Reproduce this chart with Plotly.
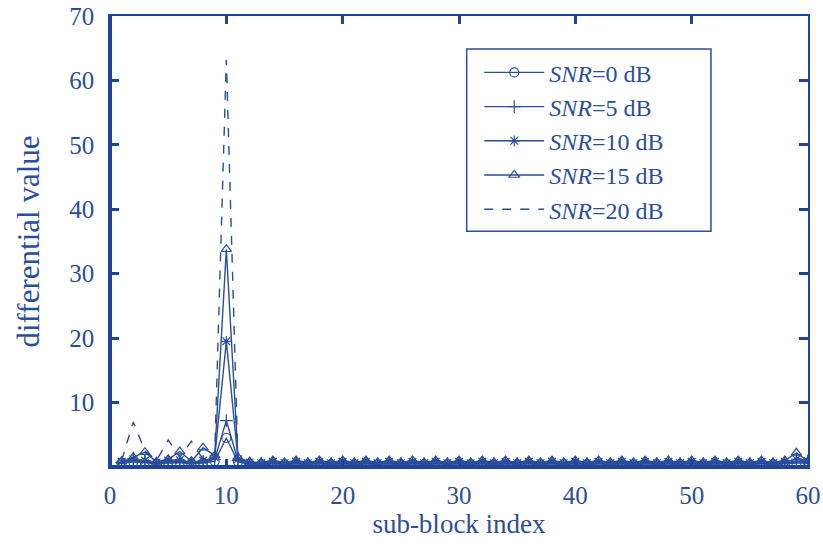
import plotly.graph_objects as go

x_index = list(range(1, 61))

snr0 = [0.6, 0.8, 0.7, 0.5, 0.6, 0.7, 0.5, 0.6, 0.9, 4.5, 0.8, 0.5,
        0.4, 0.5, 0.4, 0.5, 0.4, 0.5, 0.4, 0.5, 0.4, 0.5, 0.4, 0.5, 0.4, 0.5, 0.4, 0.5, 0.4, 0.5,
        0.4, 0.5, 0.4, 0.5, 0.4, 0.5, 0.4, 0.5, 0.4, 0.5, 0.4, 0.5, 0.4, 0.5, 0.4, 0.5, 0.4, 0.5,
        0.4, 0.5, 0.4, 0.5, 0.4, 0.5, 0.4, 0.5, 0.4, 0.5, 0.6, 0.7]
snr5 = [0.7, 1.0, 0.9, 0.6, 0.8, 0.9, 0.6, 0.8, 1.2, 7.2, 1.0, 0.6,
        0.5, 0.6, 0.5, 0.6, 0.5, 0.6, 0.5, 0.6, 0.5, 0.6, 0.5, 0.6, 0.5, 0.6, 0.5, 0.6, 0.5, 0.6,
        0.5, 0.6, 0.5, 0.6, 0.5, 0.6, 0.5, 0.6, 0.5, 0.6, 0.5, 0.6, 0.5, 0.6, 0.5, 0.6, 0.5, 0.6,
        0.5, 0.6, 0.5, 0.6, 0.5, 0.6, 0.5, 0.6, 0.5, 0.6, 0.8, 1.0]
snr10 = [0.8, 1.2, 1.0, 0.7, 1.0, 1.1, 0.7, 1.0, 1.5, 19.5, 1.2, 0.7,
         0.6, 0.8, 0.6, 0.8, 0.6, 0.8, 0.6, 0.8, 0.6, 0.8, 0.6, 0.8, 0.6, 0.8, 0.6, 0.8, 0.6, 0.8,
         0.6, 0.8, 0.6, 0.8, 0.6, 0.8, 0.6, 0.8, 0.6, 0.8, 0.6, 0.8, 0.6, 0.8, 0.6, 0.8, 0.6, 0.8,
         0.6, 0.8, 0.6, 0.8, 0.6, 0.8, 0.6, 0.8, 0.6, 0.8, 1.2, 0.9]
snr15 = [0.9, 1.5, 2.3, 0.8, 1.2, 2.4, 0.9, 3.0, 1.8, 33.8, 1.5, 0.8,
         0.7, 1.0, 0.7, 1.0, 0.7, 1.0, 0.7, 1.0, 0.7, 1.0, 0.7, 1.0, 0.7, 1.0, 0.7, 1.0, 0.7, 1.0,
         0.7, 1.0, 0.7, 1.0, 0.7, 1.0, 0.7, 1.0, 0.7, 1.0, 0.7, 1.0, 0.7, 1.0, 0.7, 1.0, 0.7, 1.0,
         0.7, 1.0, 0.7, 1.0, 0.7, 1.0, 0.7, 1.0, 0.7, 1.0, 2.2, 0.9]
snr20 = [1.0, 7.0, 2.5, 1.0, 4.2, 1.5, 4.0, 1.2, 2.0, 63.2, 1.0, 0.6,
         0.3, 0.6, 0.3, 0.6, 0.3, 0.6, 0.3, 0.6, 0.3, 0.6, 0.3, 0.6, 0.3, 0.6, 0.3, 0.6, 0.3, 0.6,
         0.3, 0.6, 0.3, 0.6, 0.3, 0.6, 0.3, 0.6, 0.3, 0.6, 0.3, 0.6, 0.3, 0.6, 0.3, 0.6, 0.3, 0.6,
         0.3, 0.6, 0.3, 0.6, 0.3, 0.6, 0.3, 0.6, 0.3, 0.6, 1.5, 0.8]

series_names = ["<i>SNR</i>=0 dB", "<i>SNR</i>=5 dB", "<i>SNR</i>=10 dB",
                "<i>SNR</i>=15 dB", "<i>SNR</i>=20 dB"]
x_ticks = [0, 10, 20, 30, 40, 50, 60]
y_ticks = [10, 20, 30, 40, 50, 60, 70]

C = "#2a4d9c"
AX = "#1f449c"
FONT = "Liberation Serif"

fig = go.Figure()
styles = [
    dict(mode="lines+markers", symbol="circle-open", dash="solid"),
    dict(mode="lines+markers", symbol="cross-thin-open", dash="solid"),
    dict(mode="lines+markers", symbol="asterisk-open", dash="solid"),
    dict(mode="lines+markers", symbol="triangle-up-open", dash="solid"),
    dict(mode="lines", symbol=None, dash="dash"),
]
for name, vals, st in zip(series_names, [snr0, snr5, snr10, snr15, snr20], styles):
    kw = {}
    if st["symbol"]:
        kw["marker"] = dict(symbol=st["symbol"], size=9, color=C,
                            line=dict(color=C, width=1.2))
    fig.add_trace(go.Scatter(x=x_index, y=vals, name=name, mode=st["mode"],
                             line=dict(color=C, width=1.4, dash=st["dash"]), **kw))

fig.update_layout(
    width=823, height=544,
    margin=dict(l=110, r=15, t=16, b=77),
    paper_bgcolor="white", plot_bgcolor="white",
    font=dict(family=FONT, size=25, color=C),
    showlegend=True,
    legend=dict(x=0.529, y=0.924, xanchor="left", yanchor="top",
                borderwidth=0, bgcolor="rgba(0,0,0,0)",
                font=dict(family=FONT, size=24, color=C),
                tracegroupgap=0, itemwidth=60),
    xaxis=dict(range=[0, 60], tickvals=x_ticks, ticktext=[str(v) for v in x_ticks],
               automargin=False, ticklabeloverflow="allow",
               showgrid=False, zeroline=False, showline=True, linecolor=AX, linewidth=1.5,
               mirror="ticks", ticks="inside", ticklen=8, tickwidth=2.5, tickcolor=AX,
               ticklabelstandoff=5, tickfont=dict(size=25),
               title=dict(text="sub-block index", standoff=0, font=dict(size=27))),
    yaxis=dict(range=[0, 70], tickvals=y_ticks, ticktext=[str(v) for v in y_ticks],
               automargin=False, ticklabeloverflow="allow",
               showgrid=False, zeroline=False, showline=True, linecolor=AX, linewidth=1.5,
               mirror="ticks", ticks="inside", ticklen=9, tickwidth=3, tickcolor=AX,
               ticklabelstandoff=9, tickfont=dict(size=25),
               title=dict(text="differential value", standoff=20, font=dict(size=31))),
)
# thicker left and bottom axis lines
fig.add_shape(type="line", xref="paper", yref="paper", x0=0, x1=0, y0=0, y1=1,
              line=dict(color=AX, width=4))
fig.add_shape(type="line", xref="paper", yref="paper", x0=0, x1=1, y0=0, y1=0,
              line=dict(color=AX, width=4))
# legend frame
fig.add_shape(type="rect", xref="paper", yref="paper", x0=0.511, x1=0.861, y0=0.523, y1=0.927,
              line=dict(color=C, width=1.5), fillcolor="rgba(0,0,0,0)")

fig.write_html("out.html", config={"displayModeBar": False},
               post_script="document.body.style.margin='0';document.body.style.overflow='hidden';")
